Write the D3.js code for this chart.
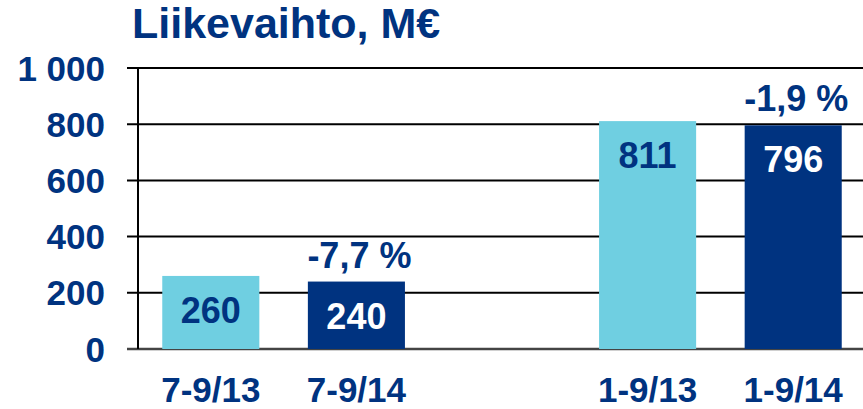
<!DOCTYPE html>
<html>
<head>
<meta charset="utf-8">
<script src="https://cdn.jsdelivr.net/npm/d3@7"></script>
<style>
  body { margin: 0; background: #fff; }
  text { font-family: "Liberation Sans", Arial, sans-serif; font-weight: bold; }
</style>
</head>
<body>
<div id="chart"></div>
<script>
// data
const categories = ["7-9/13", "7-9/14", "", "1-9/13", "1-9/14"];
const values = [260, 240, null, 811, 796];
const changes = [null, "-7,7 %", null, null, "-1,9 %"];
const yTicks = [0, 200, 400, 600, 800, 1000];
const yTickLabels = ["0", "200", "400", "600", "800", "1 000"];

const dark = "#003380";
const light = "#6fcfe1";
const barColors = [light, dark, null, light, dark];
const valueColors = [dark, "#fff", null, dark, "#fff"];

const W = 863, H = 409;
const margin = { top: 68, right: 0, bottom: 60, left: 138 };
const width = W - margin.left - margin.right;
const height = H - margin.top - margin.bottom;

const svg = d3.select("#chart")
  .append("svg")
  .attr("width", W)
  .attr("height", H);

const g = svg.append("g")
  .attr("transform", `translate(${margin.left},${margin.top})`);

const x = d3.scaleBand()
  .domain(d3.range(categories.length))
  .range([0, 728])
  .paddingInner(1 / 3)
  .paddingOuter(1 / 6);

const y = d3.scaleLinear()
  .domain([0, 1000])
  .range([281, 0]);

// title
svg.append("text")
  .attr("x", 132)
  .attr("y", 38)
  .attr("fill", dark)
  .attr("font-size", "43px")
  .text("Liikevaihto, M€");

// gridlines
g.selectAll(".grid")
  .data(yTicks)
  .join("line")
  .attr("x1", -11)
  .attr("x2", width)
  .attr("y1", d => y(d))
  .attr("y2", d => y(d))
  .attr("stroke", d => d === 0 ? "#444" : "#000")
  .attr("stroke-width", d => d === 0 ? 2.5 : 2);

// y axis line
g.append("line")
  .attr("x1", 0).attr("x2", 0)
  .attr("y1", y(1000)).attr("y2", y(0))
  .attr("stroke", "#000")
  .attr("stroke-width", 2);

// y tick labels
g.selectAll(".ytick")
  .data(yTicks)
  .join("text")
  .attr("x", -33)
  .attr("y", d => y(d))
  .attr("dy", "0.36em")
  .attr("text-anchor", "end")
  .attr("fill", dark)
  .attr("font-size", "35px")
  .text((d, i) => yTickLabels[i]);

const idx = d3.range(categories.length).filter(i => values[i] !== null);

// bars
g.selectAll(".bar")
  .data(idx)
  .join("rect")
  .attr("x", i => x(i))
  .attr("width", x.bandwidth())
  .attr("y", i => y(values[i]))
  .attr("height", i => y(0) - y(values[i]))
  .attr("fill", i => barColors[i]);

// value labels inside bars
g.selectAll(".val")
  .data(idx)
  .join("text")
  .attr("x", i => x(i) + x.bandwidth() / 2)
  .attr("y", i => y(values[i]) + 47)
  .attr("text-anchor", "middle")
  .attr("fill", i => valueColors[i])
  .attr("font-size", "36px")
  .text(i => values[i]);

// change labels above bars
g.selectAll(".chg")
  .data(idx.filter(i => changes[i]))
  .join("text")
  .attr("x", i => x(i) + x.bandwidth() / 2 + 3)
  .attr("y", i => y(values[i]) - 14)
  .attr("text-anchor", "middle")
  .attr("fill", dark)
  .attr("font-size", "36px")
  .text(i => changes[i]);

// category labels
g.selectAll(".cat")
  .data(idx)
  .join("text")
  .attr("x", i => x(i) + x.bandwidth() / 2)
  .attr("y", height + 53)
  .attr("text-anchor", "middle")
  .attr("fill", dark)
  .attr("font-size", "35px")
  .text(i => categories[i]);
</script>
</body>
</html>
